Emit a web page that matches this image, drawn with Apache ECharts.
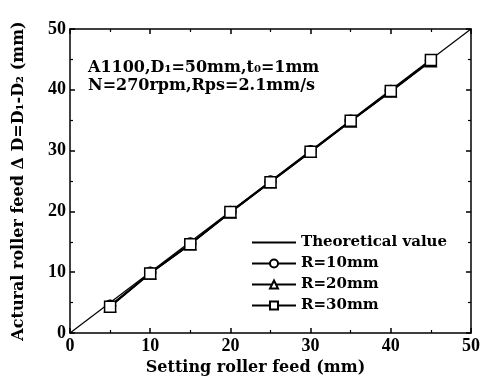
<!DOCTYPE html>
<html><head><meta charset="utf-8">
<script src="https://cdn.jsdelivr.net/npm/echarts@6/dist/echarts.min.js"></script>
<style>html,body{margin:0;padding:0;background:#fff}#c{width:485px;height:387px}</style>
</head><body><div id="c"></div>
<script>
const xTicks = [0, 10, 20, 30, 40, 50];
const settingFeed = [5, 10, 15, 20, 25, 30, 35, 40, 45];
const theoreticalX = [0, 50];
const theoreticalY = [0, 50];
const r10 = [4.5, 9.9, 14.7, 19.9, 24.9, 29.9, 34.9, 39.8, 44.8];
const r20 = [4.4, 9.8, 14.6, 19.8, 24.8, 29.8, 34.8, 39.7, 44.7];
const r30 = [4.3, 9.8, 14.6, 19.9, 24.8, 29.8, 34.9, 39.8, 44.9];

const font = '"Liberation Serif", "Times New Roman", serif';
const wide = '"DejaVu Serif", serif';
const pairs = (xs, ys) => xs.map((x, i) => [x, ys[i]]);
const chart = echarts.init(document.getElementById('c'));
const axisCommon = {
  type: 'value', min: 0, max: 50, interval: 10,
  axisLine: {show: true, onZero: false, lineStyle: {color: '#000', width: 1.5}},
  axisTick: {show: true, inside: true, length: 5, lineStyle: {color: '#000', width: 1.5}},
  minorTick: {show: true, splitNumber: 2, length: 3, lineStyle: {color: '#000', width: 1.2}},
  splitLine: {show: false}
};
const labelStyle = {color: '#000', fontFamily: font, fontWeight: 'bold', fontSize: 18};
const markerSeries = (name, sym, data) => ({
  name, type: 'line', data: pairs(settingFeed, data), symbol: sym, symbolSize: 11,
  showSymbol: true,
  lineStyle: {color: '#000', width: 1.6},
  itemStyle: {color: '#fff', borderColor: '#000', borderWidth: 1.5}
});
chart.setOption({
  backgroundColor: '#fff',
  animation: false,
  grid: {left: 70, right: 14, top: 29, bottom: 54},
  xAxis: [
    Object.assign({}, axisCommon, {position: 'bottom',
      axisLabel: Object.assign({}, labelStyle, {margin: 4}),
      name: 'Setting roller feed (mm)', nameLocation: 'middle', nameGap: 27,
      nameTextStyle: {color: '#000', fontFamily: wide, fontWeight: 'bold', fontSize: 16, padding: [0, 30, 0, 0]}}),
    Object.assign({}, axisCommon, {position: 'top', axisLabel: {show: false}})
  ],
  yAxis: [
    Object.assign({}, axisCommon, {position: 'left',
      axisLabel: Object.assign({}, labelStyle, {margin: 4}),
      name: 'Actural roller feed \u0394 D=D\u2081-D\u2082 (mm)', nameLocation: 'middle', nameGap: 43,
      nameTextStyle: {color: '#000', fontFamily: wide, fontWeight: 'bold', fontSize: 16}}),
    Object.assign({}, axisCommon, {position: 'right', axisLabel: {show: false}})
  ],
  legend: {
    orient: 'vertical', left: 246, top: 230, itemGap: 6, itemWidth: 44, itemHeight: 10,
    textStyle: {color: '#000', fontFamily: wide, fontWeight: 'bold', fontSize: 15},
    data: [{name: 'Theoretical value', itemStyle: {opacity: 0}}, 'R=10mm', 'R=20mm', 'R=30mm']
  },
  graphic: [{
    type: 'text', left: 88, top: 59,
    style: {
      text: 'A1100,D\u2081=50mm,t\u2080=1mm\nN=270rpm,Rps=2.1mm/s',
      fill: '#000', font: 'bold 16px ' + wide, lineHeight: 18
    }
  }],
  series: [
    {name: 'Theoretical value', type: 'line', data: pairs(theoreticalX, theoreticalY),
     symbol: 'none', lineStyle: {color: '#000', width: 1.2}, itemStyle: {color: '#000'}},
    markerSeries('R=10mm', 'circle', r10),
    markerSeries('R=20mm', 'triangle', r20),
    markerSeries('R=30mm', 'rect', r30)
  ]
});
</script></body></html>
